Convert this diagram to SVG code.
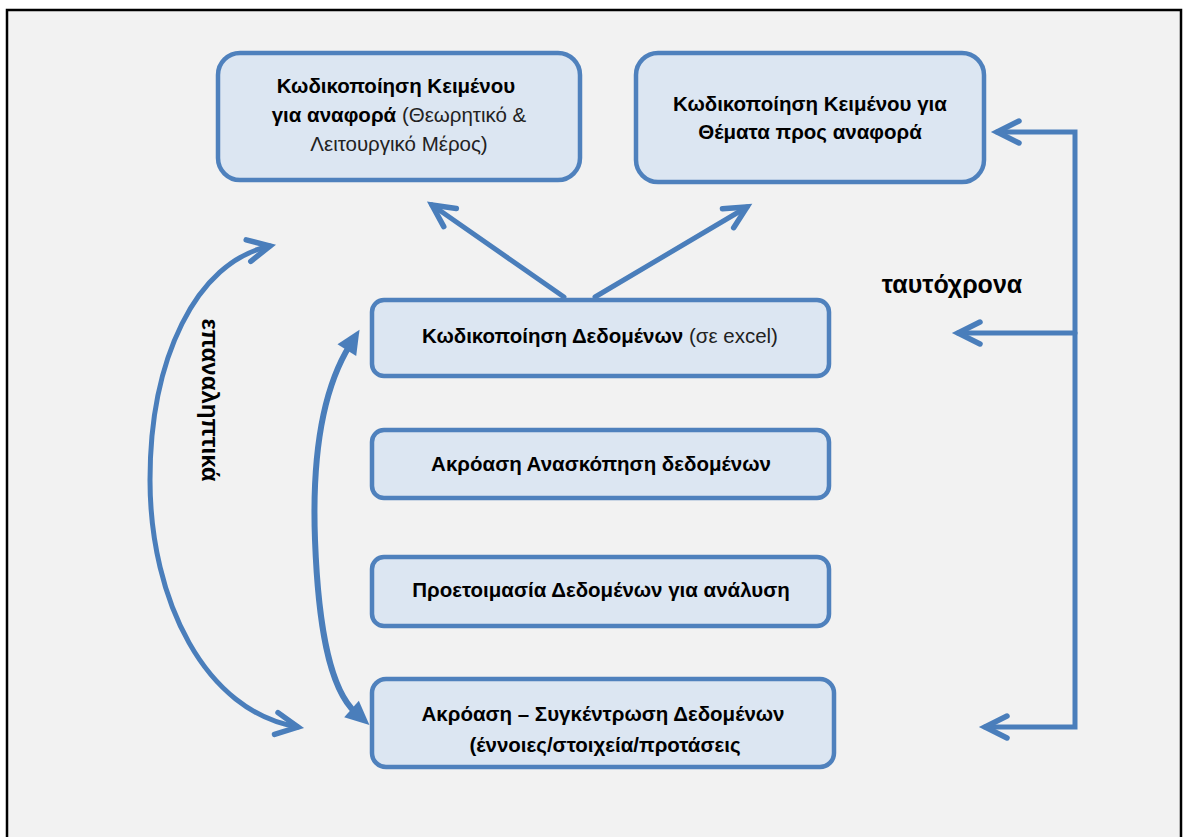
<svg xmlns="http://www.w3.org/2000/svg" width="1184" height="837" viewBox="0 0 1184 837">
<defs>
<style>
.box{fill:#dce6f2;stroke:#4f81bd;stroke-width:4.5}
.t{font-family:"Liberation Sans","Noto Sans",sans-serif;font-size:20.5px;fill:#000;text-anchor:middle}
.b{font-weight:bold}
.r{font-weight:normal;fill:#222}
.conn{fill:none;stroke:#4a7ebb;stroke-width:5;stroke-linecap:round;stroke-linejoin:miter}
.lbl{font-family:"Liberation Sans","Noto Sans",sans-serif;font-weight:bold;fill:#000}
</style>
<marker id="chev" markerUnits="userSpaceOnUse" viewBox="-30 -20 40 40" markerWidth="40" markerHeight="40" refX="0" refY="0" orient="auto-start-reverse">
<path d="M-22,-11 L0,0 L-22,11" fill="none" stroke="#4a7ebb" stroke-width="5.5" stroke-linecap="round" stroke-linejoin="miter"/>
</marker>
<marker id="tri" markerUnits="userSpaceOnUse" viewBox="-10 -15 40 30" markerWidth="40" markerHeight="30" refX="6" refY="0" orient="auto-start-reverse">
<polygon points="0,-11 24,0 0,11" fill="#4a7ebb"/>
</marker>
</defs>
<rect x="0" y="0" width="1184" height="837" fill="#ffffff"/>
<rect x="7" y="10" width="1174" height="840" fill="#f2f2f2" stroke="#000" stroke-width="2.5"/>

<g id="connectors">
<line class="conn" x1="564" y1="297" x2="432" y2="205" marker-end="url(#chev)"/>
<line class="conn" x1="595" y1="297" x2="747" y2="207" marker-end="url(#chev)"/>
<polyline class="conn" points="997,132 1075,132 1075,727 985,727" marker-start="url(#chev)" marker-end="url(#chev)"/>
<line class="conn" x1="1075" y1="333" x2="958" y2="333" marker-end="url(#chev)"/>
<path class="conn" d="M270,246 C195,262 150,360 150,480 C150,600 205,712 298,727" marker-start="url(#chev)" marker-end="url(#chev)"/>
<path class="conn" style="stroke-width:6" d="M350,345 C322,390 312,460 315,540 C318,620 328,688 356,713" marker-start="url(#tri)" marker-end="url(#tri)"/>
</g>

<g id="node1">
<rect class="box" x="218" y="53" width="362" height="127" rx="22"/>
<text class="t b" x="396" y="93">Κωδικοποίηση Κειμένου</text>
<text class="t" x="399" y="122"><tspan class="b">για αναφορά</tspan><tspan class="r"> (Θεωρητικό &amp;</tspan></text>
<text class="t r" x="399" y="151">Λειτουργικό Μέρος)</text>
</g>
<g id="node2">
<rect class="box" x="636" y="53" width="348" height="129" rx="22"/>
<text class="t b" x="810" y="111">Κωδικοποίηση Κειμένου για</text>
<text class="t b" x="810" y="139">Θέματα προς αναφορά</text>
</g>
<g id="node3">
<rect class="box" x="372" y="300" width="457" height="76" rx="12"/>
<text class="t" x="600" y="343"><tspan class="b">Κωδικοποίηση Δεδομένων</tspan><tspan class="r"> (σε excel)</tspan></text>
</g>
<g id="node4">
<rect class="box" x="372" y="430" width="457" height="68" rx="12"/>
<text class="t b" x="601" y="471">Ακρόαση Ανασκόπηση δεδομένων</text>
</g>
<g id="node5">
<rect class="box" x="372" y="557" width="457" height="69" rx="12"/>
<text class="t b" x="601" y="597">Προετοιμασία Δεδομένων για ανάλυση</text>
</g>
<g id="node6">
<rect class="box" x="372" y="679" width="462" height="88" rx="14"/>
<text class="t b" x="603" y="721">Ακρόαση – Συγκέντρωση Δεδομένων</text>
<text class="t b" x="605" y="752">(έννοιες/στοιχεία/προτάσεις</text>
</g>

<g id="labels">
<text class="lbl" x="952" y="293" font-size="25" text-anchor="middle">ταυτόχρονα</text>
<text class="lbl" font-size="24" text-anchor="middle" transform="translate(202,400) rotate(90)">επαναληπτικά</text>
</g>
</svg>
